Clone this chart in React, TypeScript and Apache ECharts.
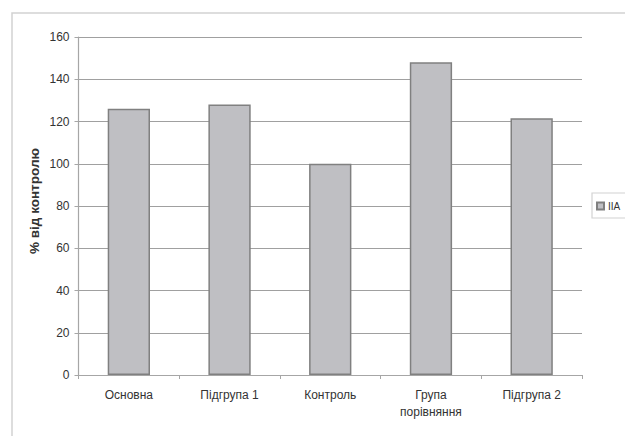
import React, { useEffect, useRef } from "react";
import * as echarts from "echarts";

const categories = ["Основна", "Підгрупа 1", "Контроль", "Група\nпорівняння", "Підгрупа 2"];
const seriesName = "IIA";
const values = [126, 128, 100, 148, 121.5];
const yTicks = { min: 0, max: 160, interval: 20 };
const yAxisTitle = "% від контролю";

export default function App() {
  const ref = useRef<HTMLDivElement>(null);
  useEffect(() => {
    if (!ref.current) return;
    const chart = echarts.init(ref.current, null, { renderer: "svg" });
    chart.setOption({
      animation: false,
      backgroundColor: "#ffffff",
      textStyle: { fontFamily: "Liberation Sans, Arial, sans-serif" },
      grid: { left: 78.5, right: 43, top: 37, bottom: 61, containLabel: false, outerBoundsMode: "none" },
      graphic: [
        {
          type: "rect",
          shape: { x: 12, y: 13, width: 700, height: 500 },
          style: { fill: "none", stroke: "#d2d2d2", lineWidth: 1.5 },
          silent: true,
        },
        {
          type: "rect",
          shape: { x: 592, y: 193, width: 60, height: 25 },
          style: { fill: "none", stroke: "#d2d2d2", lineWidth: 1.2 },
          silent: true,
        },
        {
          type: "text",
          x: 34,
          y: 201,
          rotation: Math.PI / 2,
          style: {
            text: yAxisTitle,
            fontSize: 13.5,
            fontWeight: "bold",
            fill: "#333",
            align: "center",
            verticalAlign: "middle",
            fontFamily: "Liberation Sans, Arial, sans-serif",
          },
          silent: true,
        },
      ],
      legend: {
        left: 596,
        top: 201,
        padding: 0,
        itemWidth: 7,
        itemHeight: 7,
        itemGap: 4,
        icon: "rect",
        data: [seriesName],
        textStyle: { fontSize: 10, color: "#333", padding: [0, 0, 0, -1] },
      },
      xAxis: {
        type: "category",
        data: categories,
        axisLine: { lineStyle: { color: "#a6a6a6", width: 1.2 } },
        axisTick: { show: true, alignWithLabel: false, length: 4, lineStyle: { color: "#a6a6a6" } },
        axisLabel: { color: "#333", fontSize: 12, margin: 11, lineHeight: 17 },
      },
      yAxis: {
        type: "value",
        min: yTicks.min,
        max: yTicks.max,
        interval: yTicks.interval,
        axisLine: { show: true, lineStyle: { color: "#a6a6a6", width: 1.2 } },
        axisTick: { show: true, length: 4, lineStyle: { color: "#a6a6a6" } },
        axisLabel: { color: "#333", fontSize: 12, margin: 9 },
        splitLine: { show: true, lineStyle: { color: "#a0a0a0", width: 1 } },
      },
      series: [
        {
          name: seriesName,
          type: "bar",
          data: values,
          barWidth: "42%",
          itemStyle: { color: "#bfbfc3", borderColor: "#808080", borderWidth: 1.5 },
        },
      ],
    });
    return () => chart.dispose();
  }, []);
  return <div ref={ref} style={{ position: "fixed", left: 0, top: 0, width: 625, height: 436 }} />;
}
